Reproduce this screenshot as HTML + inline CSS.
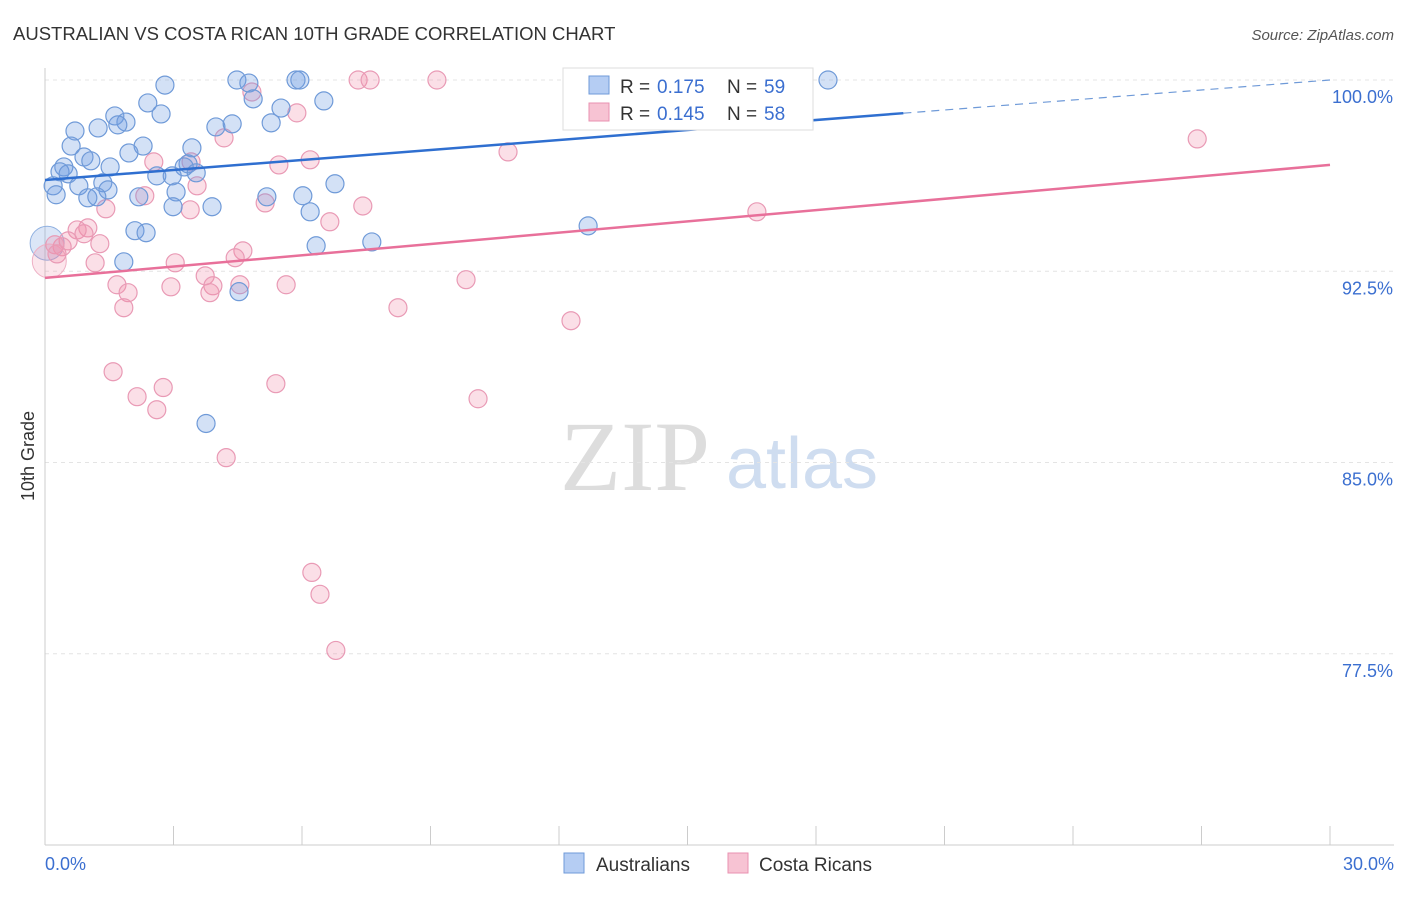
<!DOCTYPE html>
<html><head><meta charset="utf-8"><style>
body{margin:0;background:#fff;font-family:"Liberation Sans",sans-serif}
</style></head><body>
<svg id="chart" width="1406" height="892" xmlns="http://www.w3.org/2000/svg" style="font-family:'Liberation Sans',sans-serif">
<text x="13" y="40" font-size="18.5" fill="#333">AUSTRALIAN VS COSTA RICAN 10TH GRADE CORRELATION CHART</text>
<text x="1394" y="40" font-size="15" fill="#555" font-style="italic" text-anchor="end">Source: ZipAtlas.com</text>
<text transform="translate(34,456) rotate(-90)" font-size="18" fill="#333" text-anchor="middle">10th Grade</text>
<g><text x="635" y="490" font-size="100" fill="#ddd" style="font-family:'Liberation Serif',serif" text-anchor="middle">ZIP</text><text x="802" y="488" font-size="72" fill="#cfddf0" text-anchor="middle">atlas</text></g>
<g id="grid"></g><g id="axes"></g><g id="marks"></g><g id="lines"></g>
<g>
<rect x="563" y="68" width="250" height="62" fill="#fff" stroke="#ddd"/>
<rect x="589" y="76" width="20" height="18" fill="#b5cdf3" stroke="#6f9ad8"/>
<text x="620" y="93" font-size="19" fill="#333">R =</text><text x="657" y="93" font-size="19" fill="#3b6fd0">0.175</text>
<text x="727" y="93" font-size="19" fill="#333">N =</text><text x="764" y="93" font-size="19" fill="#3b6fd0">59</text>
<rect x="589" y="103" width="20" height="18" fill="#f7c3d3" stroke="#e992b0"/>
<text x="620" y="120" font-size="19" fill="#333">R =</text><text x="657" y="120" font-size="19" fill="#3b6fd0">0.145</text>
<text x="727" y="120" font-size="19" fill="#333">N =</text><text x="764" y="120" font-size="19" fill="#3b6fd0">58</text>
</g>
<g>
<rect x="564" y="853" width="20" height="20" fill="#b5cdf3" stroke="#6f9ad8"/>
<text x="596" y="871" font-size="19" fill="#333">Australians</text>
<rect x="728" y="853" width="20" height="20" fill="#f7c3d3" stroke="#e992b0"/>
<text x="759" y="871" font-size="19" fill="#333">Costa Ricans</text>
</g>
</svg>
<script>
const blueX=[2.80,4.48,4.76,5.86,5.95,18.28,2.40,2.71,1.63,4.86,5.51,6.51,1.24,0.70,1.89,1.70,3.99,4.37,5.28,0.61,2.29,1.96,3.43,0.91,1.07,0.44,1.52,0.35,0.54,3.34,3.25,3.53,2.61,2.97,1.35,0.19,0.79,1.47,0.26,3.06,2.19,1.00,1.21,5.18,6.02,6.77,2.99,3.90,6.19,12.68,2.10,2.36,7.63,6.33,1.84,4.53,3.76,12.33];
const blueY=[99.80,100,99.88,100,100,100,99.10,98.67,98.59,99.26,98.90,99.18,98.12,98.00,98.35,98.24,98.16,98.28,98.32,97.41,97.41,97.14,97.34,96.98,96.83,96.59,96.59,96.40,96.32,96.71,96.59,96.36,96.24,96.24,95.97,95.85,95.85,95.69,95.50,95.61,95.42,95.38,95.42,95.42,95.46,95.93,95.03,95.03,94.83,94.28,94.09,94.01,93.65,93.50,92.87,91.70,86.53,100];
const pinkX=[4.83,7.31,7.59,9.15,5.88,4.18,10.81,2.54,3.41,5.46,6.19,3.55,2.33,1.42,3.39,5.14,7.42,6.65,16.62,1.00,0.75,0.91,0.54,0.40,0.23,0.28,1.28,4.62,4.44,1.17,3.04,3.74,1.68,2.94,3.92,4.55,5.63,1.94,3.85,9.83,1.84,8.24,12.28,1.59,2.76,5.39,2.15,2.61,10.11,4.23,6.23,6.42,6.79,26.90];
const pinkY=[99.53,100,100,100,98.71,97.73,97.18,96.79,96.79,96.67,96.87,95.85,95.46,94.95,94.91,95.18,95.06,94.44,94.83,94.20,94.12,93.97,93.69,93.46,93.54,93.18,93.58,93.30,93.03,92.83,92.83,92.32,91.97,91.89,91.93,91.97,91.97,91.66,91.66,92.17,91.07,91.07,90.56,88.56,87.94,88.09,87.58,87.07,87.50,85.19,80.69,79.83,77.63,97.69];
const yTicks=[100,92.5,85,77.5];
const yTickLabels=["100.0%","92.5%","85.0%","77.5%"];
const xTicks=[0,3,6,9,12,15,18,21,24,27,30];
const blueTrend=[96.08,100];
const pinkTrend=[92.24,96.67];
const NS="http://www.w3.org/2000/svg";
const X=v=>45+v*1285/30, Y=v=>80+(100-v)*765/30;
function mk(tag,parent,attrs){const e=document.createElementNS(NS,tag);for(const k in attrs)e.setAttribute(k,attrs[k]);document.getElementById(parent).appendChild(e);return e;}
yTicks.forEach((t,i)=>{
 const g=mk('line','grid',{x1:45,x2:1394,y1:Y(t),y2:Y(t),stroke:'#e4e4e4','stroke-dasharray':'4,4'});
 
 
 const tx=mk('text','grid',{x:1393,y:Y(t)+23,'font-size':18,fill:'#3b6fd0','text-anchor':'end'});tx.textContent=yTickLabels[i];
 
 
});
const ax=mk('line','axes',{x1:45,x2:45,y1:68,y2:845,stroke:'#ccc'});


const bx=mk('line','axes',{x1:45,x2:1394,y1:845,y2:845,stroke:'#ccc'});


xTicks.forEach(t=>{const l=mk('line','axes',{x1:X(t),x2:X(t),y1:826,y2:845,stroke:'#ccc'});
 
 });
const l0=mk('text','axes',{x:45,y:870,'font-size':18,fill:'#3b6fd0'});l0.textContent=xTicks[0].toFixed(1)+'%';


const l1=mk('text','axes',{x:1394,y:870,'font-size':18,fill:'#3b6fd0','text-anchor':'end'});l1.textContent=xTicks[xTicks.length-1].toFixed(1)+'%';


const bb=mk('circle','marks',{cx:X(0.05),cy:Y(93.6),r:17,fill:'rgba(110,155,225,0.25)',stroke:'#8fb0e0'});


const pb=mk('circle','marks',{cx:X(0.1),cy:Y(92.9),r:17,fill:'rgba(240,140,170,0.22)',stroke:'#eeb0c5'});


pinkX.forEach((v,i)=>{const c=mk('circle','marks',{cx:X(v),cy:Y(pinkY[i]),r:9,fill:'rgba(240,140,170,0.28)',stroke:'#e99ab5','stroke-width':1.2});
 
 });
blueX.forEach((v,i)=>{const c=mk('circle','marks',{cx:X(v),cy:Y(blueY[i]),r:9,fill:'rgba(110,155,225,0.3)',stroke:'#6f9ad8','stroke-width':1.2});
 
 });
const bs=20.04, by=v=>blueTrend[0]+(blueTrend[1]-blueTrend[0])*v/30;
const t1=mk('line','lines',{x1:X(0),y1:Y(by(0)),x2:X(bs),y2:Y(by(bs)),stroke:'#2f6fd0','stroke-width':2.5});


const t2=mk('line','lines',{x1:X(bs),y1:Y(by(bs)),x2:X(30),y2:Y(by(30)),stroke:'#6f9ad8','stroke-width':1.2,'stroke-dasharray':'8,6'});


const t3=mk('line','lines',{x1:X(0),y1:Y(pinkTrend[0]),x2:X(30),y2:Y(pinkTrend[1]),stroke:'#e8709a','stroke-width':2.5});


</script>
</body></html>
